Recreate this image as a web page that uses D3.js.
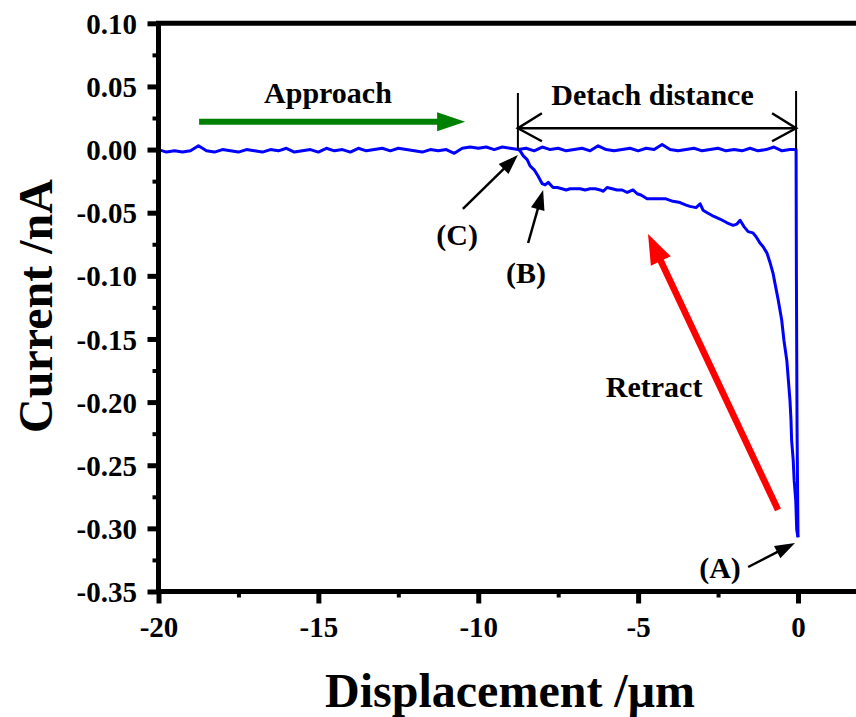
<!DOCTYPE html>
<html>
<head>
<meta charset="utf-8">
<script src="https://cdn.jsdelivr.net/npm/d3@7"></script>
<style>
  body { margin: 0; background: #fff; }
  svg text { font-family: "Liberation Serif", "Times New Roman", serif; font-weight: bold; fill: #000; }
</style>
</head>
<body>
<div id="chart"></div>
<script>
//////////////////////////
// data
//////////////////////////
var xTicks = [-20, -15, -10, -5, 0],
    xMinor = [-17.5, -12.5, -7.5, -2.5],
    yTicks = [0.10, 0.05, 0.00, -0.05, -0.10, -0.15, -0.20, -0.25, -0.30, -0.35],
    yMinor = [0.075, 0.025, -0.025, -0.075, -0.125, -0.175, -0.225, -0.275, -0.325];

// approach: displacement (um), current (nA)
var approach = [
  [-20.00, 0.000], [-19.75, -0.002], [-19.50, -0.001], [-19.25, -0.002], [-19.00, -0.001],
  [-18.75, 0.003], [-18.50, -0.001], [-18.25, -0.002], [-18.00, 0.000], [-17.75, -0.001],
  [-17.50, -0.002], [-17.25, 0.000], [-17.00, -0.001], [-16.75, -0.002], [-16.50, 0.000],
  [-16.25, -0.001], [-16.00, 0.001], [-15.75, -0.002], [-15.50, -0.001], [-15.25, 0.000],
  [-15.00, -0.002], [-14.75, 0.001], [-14.50, -0.001], [-14.25, 0.000], [-14.00, -0.002],
  [-13.75, 0.001], [-13.50, -0.001], [-13.25, 0.000], [-13.00, 0.001], [-12.75, -0.001],
  [-12.50, 0.001], [-12.25, 0.000], [-12.00, -0.001], [-11.75, -0.002], [-11.50, 0.000],
  [-11.25, -0.001], [-11.00, 0.000], [-10.75, -0.003], [-10.50, 0.001], [-10.25, 0.002],
  [-10.00, 0.001], [-9.75, 0.002], [-9.50, 0.000], [-9.25, 0.002], [-9.00, 0.001],
  [-8.75, 0.000], [-8.50, 0.001], [-8.25, -0.001], [-8.00, 0.002], [-7.75, 0.000],
  [-7.50, 0.001], [-7.25, -0.001], [-7.00, 0.000], [-6.75, 0.001], [-6.50, -0.001],
  [-6.25, 0.003], [-6.00, 0.000], [-5.75, -0.001], [-5.50, 0.000], [-5.25, 0.001],
  [-5.00, -0.001], [-4.75, 0.001], [-4.50, 0.000], [-4.25, 0.004], [-4.00, 0.000],
  [-3.75, -0.001], [-3.50, 0.000], [-3.25, 0.001], [-3.00, -0.001], [-2.75, 0.000],
  [-2.50, 0.001], [-2.25, -0.001], [-2.00, 0.000], [-1.75, -0.001], [-1.50, 0.001],
  [-1.25, -0.001], [-1.00, 0.000], [-0.75, 0.002], [-0.50, -0.001], [-0.25, 0.000],
  [-0.06, 0.000], [-0.05, -0.100], [-0.03, -0.220], [0.00, -0.307]
];

// retract: displacement (um), current (nA)
var retract = [
  [0.00, -0.307], [-0.04, -0.301], [-0.07, -0.278], [-0.12, -0.262], [-0.15, -0.246],
  [-0.20, -0.230], [-0.22, -0.214], [-0.25, -0.199], [-0.30, -0.183], [-0.35, -0.167],
  [-0.44, -0.151], [-0.51, -0.135], [-0.62, -0.119], [-0.72, -0.106], [-0.78, -0.098],
  [-0.88, -0.089], [-0.97, -0.082], [-1.09, -0.077], [-1.19, -0.074], [-1.31, -0.069],
  [-1.41, -0.066], [-1.56, -0.065], [-1.69, -0.061], [-1.81, -0.056], [-1.91, -0.059],
  [-2.03, -0.060], [-2.22, -0.058], [-2.44, -0.055], [-2.63, -0.053], [-2.84, -0.050],
  [-2.97, -0.048], [-3.06, -0.043], [-3.19, -0.046], [-3.38, -0.045], [-3.50, -0.044],
  [-3.69, -0.042], [-3.91, -0.041], [-4.13, -0.039], [-4.31, -0.039], [-4.53, -0.039],
  [-4.72, -0.039], [-4.91, -0.036], [-5.03, -0.035], [-5.16, -0.032], [-5.34, -0.034],
  [-5.50, -0.032], [-5.66, -0.032], [-5.81, -0.031], [-5.97, -0.030], [-6.09, -0.033],
  [-6.19, -0.032], [-6.34, -0.031], [-6.50, -0.031], [-6.66, -0.032], [-6.81, -0.031],
  [-6.97, -0.031], [-7.13, -0.031], [-7.25, -0.032], [-7.38, -0.031], [-7.53, -0.030],
  [-7.66, -0.030], [-7.81, -0.026], [-7.91, -0.028], [-8.00, -0.027], [-8.13, -0.021],
  [-8.25, -0.016], [-8.38, -0.013], [-8.47, -0.008], [-8.59, -0.005], [-8.69, -0.001],
  [-8.75, 0.000]
];

//////////////////////////
// setup plot
//////////////////////////
var width = 856, height = 717;

var svg = d3.select("#chart").append("svg")
  .attr("width", width)
  .attr("height", height);

// scales
var x = d3.scaleLinear().domain([-20, 2]).range([158.5, 861.95]);
var y = d3.scaleLinear().domain([-0.35, 0.10]).range([591.5, 23.3]);

// curves
var line = d3.line()
  .x(function(d) { return x(d[0]); })
  .y(function(d) { return y(d[1]); });

svg.append("path")
  .datum(approach)
  .attr("d", line)
  .attr("fill", "none")
  .attr("stroke", "#0000ff")
  .attr("stroke-width", 3)
  .attr("stroke-linejoin", "round");

svg.append("path")
  .datum(retract)
  .attr("d", line)
  .attr("fill", "none")
  .attr("stroke", "#0000ff")
  .attr("stroke-width", 3)
  .attr("stroke-linejoin", "round");

// axes
var fmtX = function(d) { return String(d); },
    fmtY = function(d) { return d.toFixed(2); };

var gx = svg.append("g")
  .attr("transform", "translate(0," + y(-0.35) + ")")
  .call(d3.axisBottom(x).tickValues(xTicks).tickFormat(fmtX).tickSize(12));
var gxm = svg.append("g")
  .attr("transform", "translate(0," + y(-0.35) + ")")
  .call(d3.axisBottom(x).tickValues(xMinor).tickFormat("").tickSize(6));
var gy = svg.append("g")
  .attr("transform", "translate(" + x(-20) + ",0)")
  .call(d3.axisLeft(y).tickValues(yTicks).tickFormat(fmtY).tickSize(11));
var gym = svg.append("g")
  .attr("transform", "translate(" + x(-20) + ",0)")
  .call(d3.axisLeft(y).tickValues(yMinor).tickFormat("").tickSize(6));

[gx, gxm, gy, gym].forEach(function(g) {
  g.select(".domain").remove();
  g.selectAll("line").attr("stroke", "#000").attr("stroke-width", 5);
});
gxm.selectAll("line").attr("stroke-width", 4);
gym.selectAll("line").attr("stroke-width", 4);

gx.selectAll("text")
  .attr("y", 45.5).attr("dy", 0)
  .style("font-size", "29px");
gy.selectAll("text")
  .attr("x", -21.5).attr("dy", "0.35em")
  .style("font-size", "29px");

// frame (left, bottom, top)
svg.append("path")
  .attr("d", "M" + width + "," + y(0.10) + "H" + x(-20) + "V" + y(-0.35) + "H" + width)
  .attr("fill", "none")
  .attr("stroke", "#000")
  .attr("stroke-width", 5);

// axis titles
svg.append("text")
  .attr("transform", "translate(52," + 306 + ") rotate(-90)")
  .attr("text-anchor", "middle")
  .style("font-size", "48px")
  .text("Current /nA");

svg.append("text")
  .attr("x", 510)
  .attr("y", 707)
  .attr("text-anchor", "middle")
  .style("font-size", "48px")
  .text("Displacement /\u03bcm");

//////////////////////////
// annotations
//////////////////////////
function arrow(x1, y1, x2, y2, color, w, headLen, headW) {
  var px1 = x(x1), py1 = y(y1), px2 = x(x2), py2 = y(y2);
  var dx = px2 - px1, dy = py2 - py1, len = Math.sqrt(dx * dx + dy * dy);
  var ux = dx / len, uy = dy / len;
  var bx = px2 - ux * headLen, by = py2 - uy * headLen;
  svg.append("line")
    .attr("x1", px1).attr("y1", py1)
    .attr("x2", bx + ux * 2).attr("y2", by + uy * 2)
    .attr("stroke", color)
    .attr("stroke-width", w);
  svg.append("path")
    .attr("d", "M" + px2 + "," + py2 +
      "L" + (bx - uy * headW / 2) + "," + (by + ux * headW / 2) +
      "L" + (bx + uy * headW / 2) + "," + (by - ux * headW / 2) + "Z")
    .attr("fill", color);
}

function label(xv, yv, txt) {
  svg.append("text")
    .attr("x", x(xv))
    .attr("y", y(yv))
    .attr("text-anchor", "middle")
    .style("font-size", "30px")
    .text(txt);
}

// approach arrow
arrow(-18.73, 0.022, -10.41, 0.022, "#008000", 6, 28, 19);
label(-14.70, 0.0369, "Approach");

// detach distance bracket
var detachL = -8.76, detachR = -0.06, detachY = 0.0169;
[[detachL, 0.0448], [detachR, 0.0464]].forEach(function(d) {
  svg.append("line")
    .attr("x1", x(d[0])).attr("x2", x(d[0]))
    .attr("y1", y(d[1])).attr("y2", y(0))
    .attr("stroke", "#000").attr("stroke-width", 2);
});
svg.append("line")
  .attr("x1", x(detachL)).attr("x2", x(detachR))
  .attr("y1", y(detachY)).attr("y2", y(detachY))
  .attr("stroke", "#000").attr("stroke-width", 2.5);
svg.append("path")
  .attr("d", "M" + (x(detachL) + 24) + "," + (y(detachY) - 15) + "L" + x(detachL) + "," + y(detachY) +
    "L" + (x(detachL) + 24) + "," + (y(detachY) + 13))
  .attr("fill", "none").attr("stroke", "#000").attr("stroke-width", 2.5);
svg.append("path")
  .attr("d", "M" + (x(detachR) - 24) + "," + (y(detachY) - 15) + "L" + x(detachR) + "," + y(detachY) +
    "L" + (x(detachR) - 24) + "," + (y(detachY) + 13))
  .attr("fill", "none").attr("stroke", "#000").attr("stroke-width", 2.5);
label(-4.55, 0.0353, "Detach distance");

// point markers
arrow(-10.48, -0.047, -8.76, -0.0043, "#000", 2.5, 20, 14);
label(-10.66, -0.0756, "(C)");
arrow(-8.44, -0.074, -7.97, -0.032, "#000", 2.5, 20, 14);
label(-8.51, -0.106, "(B)");
arrow(-1.56, -0.3306, -0.094, -0.3116, "#000", 2.5, 20, 14);
label(-2.44, -0.339, "(A)");

// retract arrow
arrow(-0.625, -0.2854, -4.69, -0.0668, "#ff0000", 6.5, 30, 22);
label(-4.50, -0.1959, "Retract");
</script>
</body>
</html>
